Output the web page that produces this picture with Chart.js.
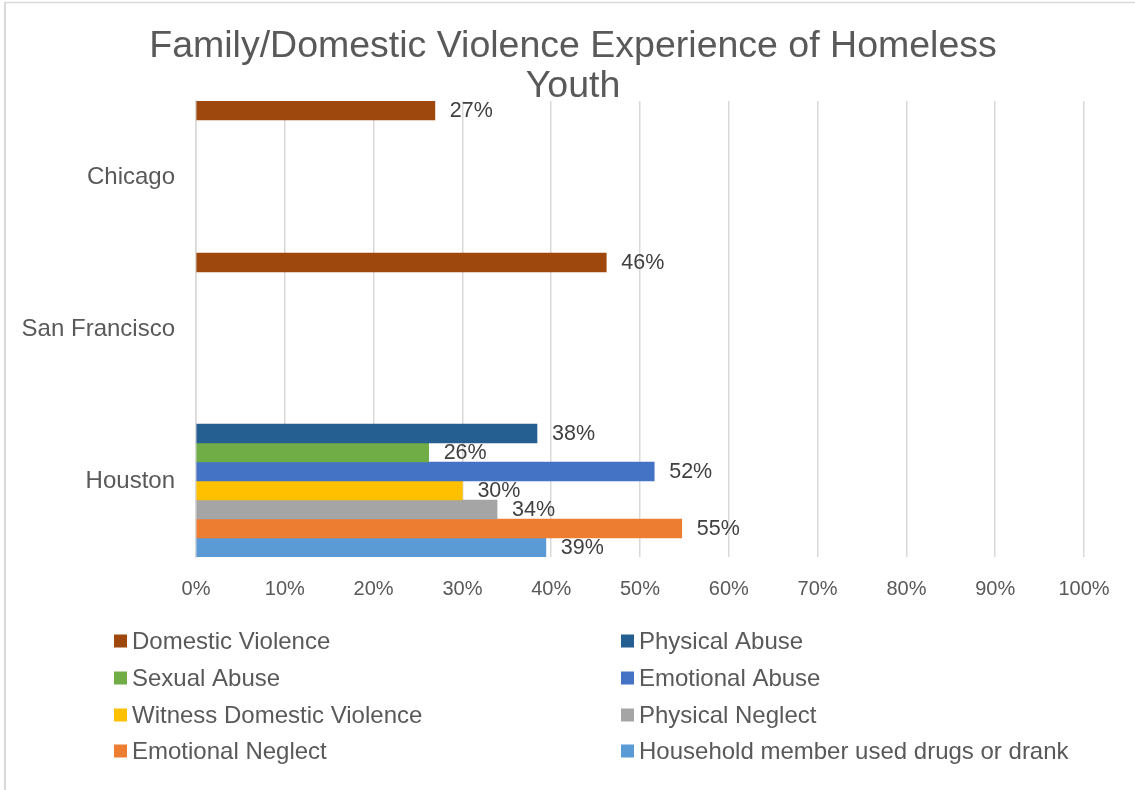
<!DOCTYPE html>
<html>
<head>
<meta charset="utf-8">
<script src="https://cdn.jsdelivr.net/npm/chart.js@4.4.1/dist/chart.umd.min.js"></script>
<style>
    html, body { margin: 0; padding: 0; background: #ffffff; }
    canvas { display: block; }
</style>
</head>
<body>
<canvas id="chart" width="1135" height="790"></canvas>
<script>
const categories = ['Chicago', 'San Francisco', 'Houston'];

const seriesNames = [
    'Domestic Violence',
    'Physical Abuse',
    'Sexual Abuse',
    'Emotional Abuse',
    'Witness Domestic Violence',
    'Physical Neglect',
    'Emotional Neglect',
    'Household member used drugs or drank'
];

const seriesColors = [
    '#9E480E',
    '#255E91',
    '#70AD47',
    '#4472C4',
    '#FFC000',
    '#A5A5A5',
    '#ED7D31',
    '#5B9BD5'
];

// percent values per city (Chicago, San Francisco, Houston)
const domesticViolence = [26.9, 46.2, null];
const physicalAbuse = [null, null, 38.4];
const sexualAbuse = [null, null, 26.2];
const emotionalAbuse = [null, null, 51.6];
const witnessDomesticViolence = [null, null, 30];
const physicalNeglect = [null, null, 33.9];
const emotionalNeglect = [null, null, 54.7];
const householdDrugsDrink = [null, null, 39.4];

const xTicks = [0, 10, 20, 30, 40, 50, 60, 70, 80, 90, 100];

const seriesValues = [
    domesticViolence,
    physicalAbuse,
    sexualAbuse,
    emotionalAbuse,
    witnessDomesticViolence,
    physicalNeglect,
    emotionalNeglect,
    householdDrugsDrink
];

const titleLines = ['Family/Domestic Violence Experience of Homeless', 'Youth'];

const FONT = '"Liberation Sans", Arial, sans-serif';
const TEXT_GRAY = '#595959';
const GRID_GRAY = '#d9d9d9';

const datasets = seriesNames.map((name, i) => ({
    label: name,
    data: seriesValues[i],
    backgroundColor: seriesColors[i],
    borderWidth: 0,
    categoryPercentage: 1.0,
    barPercentage: 1.0
}));

// Outer chart border (only left and top edges fall inside the picture)
const borderPlugin = {
    id: 'chartBorder',
    beforeDraw(chart) {
        const ctx = chart.ctx;
        ctx.save();
        ctx.strokeStyle = GRID_GRAY;
        ctx.lineWidth = 2;
        ctx.beginPath();
        ctx.moveTo(5, 2);
        ctx.lineTo(5, chart.height);
        ctx.stroke();
        ctx.lineWidth = 1.5;
        ctx.beginPath();
        ctx.moveTo(5, 2.5);
        ctx.lineTo(chart.width, 2.5);
        ctx.stroke();
        ctx.restore();
    }
};

const titlePlugin = {
    id: 'wrappedTitle',
    afterDraw(chart) {
        const ctx = chart.ctx;
        ctx.save();
        ctx.font = '37.5px ' + FONT;
        ctx.fillStyle = TEXT_GRAY;
        ctx.textAlign = 'center';
        ctx.textBaseline = 'alphabetic';
        titleLines.forEach((line, i) => {
            ctx.fillText(line, 573, 57 + i * 40);
        });
        ctx.restore();
    }
};

// Value labels just past the end of each bar
const valueLabelPlugin = {
    id: 'valueLabels',
    afterDatasetsDraw(chart) {
        const ctx = chart.ctx;
        ctx.save();
        ctx.font = '21.5px ' + FONT;
        ctx.fillStyle = '#404040';
        ctx.textAlign = 'left';
        ctx.textBaseline = 'middle';
        chart.data.datasets.forEach((ds, di) => {
            const meta = chart.getDatasetMeta(di);
            meta.data.forEach((bar, idx) => {
                const v = ds.data[idx];
                if (v === null || v === undefined) return;
                ctx.fillText(Math.round(v) + '%', bar.x + 15, bar.y + 1);
            });
        });
        ctx.restore();
    }
};

// Two-column legend under the axis, like the Excel layout
const legendPlugin = {
    id: 'gridLegend',
    afterDraw(chart) {
        const ctx = chart.ctx;
        const colX = [114, 621];
        const rowY = [641, 678, 715, 751];
        ctx.save();
        ctx.font = '24px ' + FONT;
        ctx.textAlign = 'left';
        ctx.textBaseline = 'middle';
        chart.data.datasets.forEach((ds, i) => {
            const x = colX[i % 2];
            const y = rowY[Math.floor(i / 2)];
            ctx.fillStyle = ds.backgroundColor;
            ctx.fillRect(x, y - 6.5, 13, 13);
            ctx.fillStyle = TEXT_GRAY;
            ctx.fillText(ds.label, x + 18, y + 1);
        });
        ctx.restore();
    }
};

new Chart(document.getElementById('chart').getContext('2d'), {
    type: 'bar',
    data: { labels: categories, datasets },
    options: {
        indexAxis: 'y',
        responsive: false,
        animation: false,
        layout: {
            padding: { left: 0, right: 51, top: 101, bottom: 193 }
        },
        plugins: {
            legend: { display: false },
            title: { display: false },
            tooltip: { enabled: false }
        },
        scales: {
            x: {
                min: 0,
                max: 100,
                afterBuildTicks(scale) {
                    scale.ticks = xTicks.map(v => ({ value: v }));
                },
                afterFit(scale) {
                    scale.height = 40;
                },
                grid: {
                    color: GRID_GRAY,
                    lineWidth: 1.5,
                    drawTicks: false
                },
                border: { display: false },
                ticks: {
                    color: TEXT_GRAY,
                    font: { family: FONT, size: 20 },
                    padding: 20,
                    maxRotation: 0,
                    autoSkip: false,
                    callback: v => v + '%'
                }
            },
            y: {
                afterFit(scale) {
                    scale.width = 196;
                },
                grid: { display: false, drawTicks: false },
                border: { display: true, color: GRID_GRAY, width: 1.5 },
                ticks: {
                    color: TEXT_GRAY,
                    font: { family: FONT, size: 24 },
                    padding: 21
                }
            }
        }
    },
    plugins: [borderPlugin, titlePlugin, valueLabelPlugin, legendPlugin]
});
</script>
</body>
</html>
